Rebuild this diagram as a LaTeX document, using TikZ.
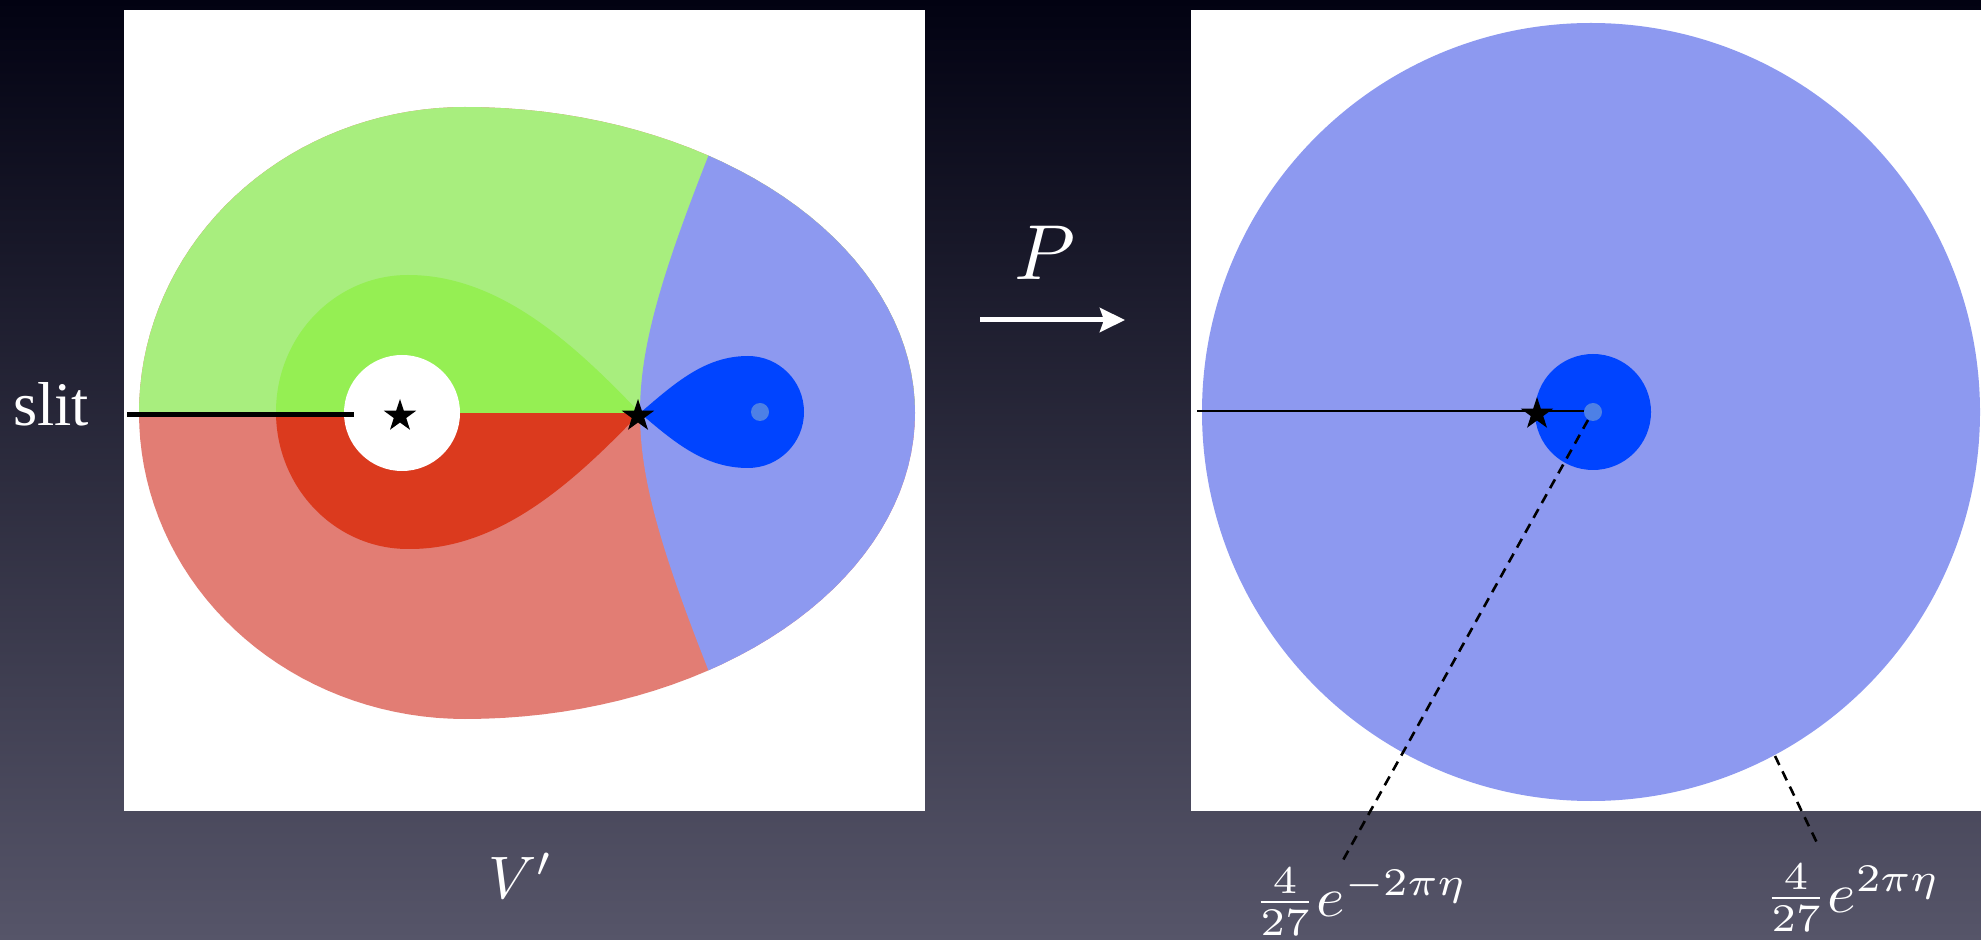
\documentclass[tikz,border=0pt]{standalone}
\usepackage{graphicx}
\usepackage{fontspec}
\newfontfamily\timesfont{Liberation Serif}
\usetikzlibrary{arrows.meta,shapes.geometric}
\definecolor{bgtop}{RGB}{2,2,18}
\definecolor{bgbot}{RGB}{86,85,105}
\definecolor{lgreen}{RGB}{168,238,126}
\definecolor{dgreen}{RGB}{149,239,83}
\definecolor{salmon}{RGB}{226,125,116}
\definecolor{dred}{RGB}{219,58,30}
\definecolor{peri}{RGB}{141,153,240}
\definecolor{blueone}{RGB}{0,68,255}
\definecolor{dotc}{RGB}{77,128,230}
\begin{document}
\begin{tikzpicture}[x=0.5pt,y=-0.5pt,
  mystar/.style={star,star points=5,star point ratio=2.6,fill=black,draw=none,inner sep=0pt,minimum size=17pt},
  dashedline/.style={black,line width=1.3pt,dash pattern=on 5pt off 3.5pt},
  lbl/.style={text=white,inner sep=0pt}]
\useasboundingbox (0,0) rectangle (1981,940);
\shade[top color=bgtop,bottom color=bgbot] (0,0) rectangle (1981,940);

% ---------- left panel ----------
\fill[white] (124,10) rectangle (925,811);
\begin{scope}
\clip plot[domain=90:270,samples=73]({465+326*cos(\x)},{413-306*sin(\x)})
  -- plot[domain=270:450,samples=73]({465+450*cos(\x)},{413-306*sin(\x)}) -- cycle;
\fill[salmon] (100,0) rectangle (1000,900);
\fill[lgreen] (100,0) rectangle (1000,413);
\fill[peri] (735,90) .. controls (665,260) and (640,340) .. (640,413)
  .. controls (640,486) and (665,566) .. (735,736) -- (1000,736) -- (1000,90) -- cycle;
\end{scope}
\begin{scope}
\clip (640,413) .. controls (575,345) and (500,275) .. (408,275)
  arc[start angle=-90,end angle=-270,x radius=132,y radius=137]
  .. controls (500,550) and (575,481) .. (640,413) -- cycle;
\fill[dgreen] (200,200) rectangle (700,413);
\fill[dred] (200,413) rectangle (700,600);
\end{scope}
\fill[white] (402,413) circle[radius=58];
\fill[blueone] (640,413) .. controls (675,383) and (705,356) .. (748,356)
  arc[start angle=-90,end angle=90,radius=56]
  .. controls (705,468) and (675,443) .. (640,413) -- cycle;
\fill[dotc] (760,412) circle[radius=9];
\coordinate (slitA) at (127,414.5);
\coordinate (slitB) at (354,414.5);
\draw[line width=2.8pt] (slitA) -- (slitB);
\node[mystar] (s1) at (400,416) {};
\node[mystar] (s2) at (638,416) {};

% ---------- right panel ----------
\fill[white] (1191,10) rectangle (1981,811);
\fill[peri] (1591,412) circle[radius=389];
\fill[blueone] (1593,412) circle[radius=58];
\coordinate (lineA) at (1197,411);
\coordinate (lineB) at (1584,411);
\draw[line width=1pt] (lineA) -- (lineB);
\fill[dotc] (1593,412) circle[radius=9];
\node[mystar] (s3) at (1537,414) {};
\coordinate (d1a) at (1588,420);
\coordinate (d1b) at (1342,862);
\coordinate (d2a) at (1775,756);
\coordinate (d2b) at (1819,847);
\draw[dashedline] (d1a) -- (d1b);
\draw[dashedline] (d2a) -- (d2b);

% ---------- labels ----------
\node[lbl,anchor=base,font=\timesfont\fontsize{31}{36}\selectfont] (slit) at (51,426) {slit};
\node[lbl,anchor=base] (P) at (1045,280) {\scalebox{3.9}{$P$}};
\coordinate (arrA) at (980,320);
\coordinate (arrB) at (1125,320);
\draw[white,line width=2.5pt,-{Stealth[length=12.5pt,width=12pt,inset=2pt]}] (arrA) -- (arrB);
\node[lbl,anchor=base] (V) at (521,898) {\scalebox{3.0}{$V'$}};
\node[lbl,anchor=base west] (l1) at (1253,916) {\scalebox{3.05}[2.8]{$\frac{4}{27}e^{-2\pi\eta}$}};
\node[lbl,anchor=base west] (l2) at (1764,912) {\scalebox{3.05}[2.8]{$\frac{4}{27}e^{2\pi\eta}$}};
\end{tikzpicture}
\end{document}
